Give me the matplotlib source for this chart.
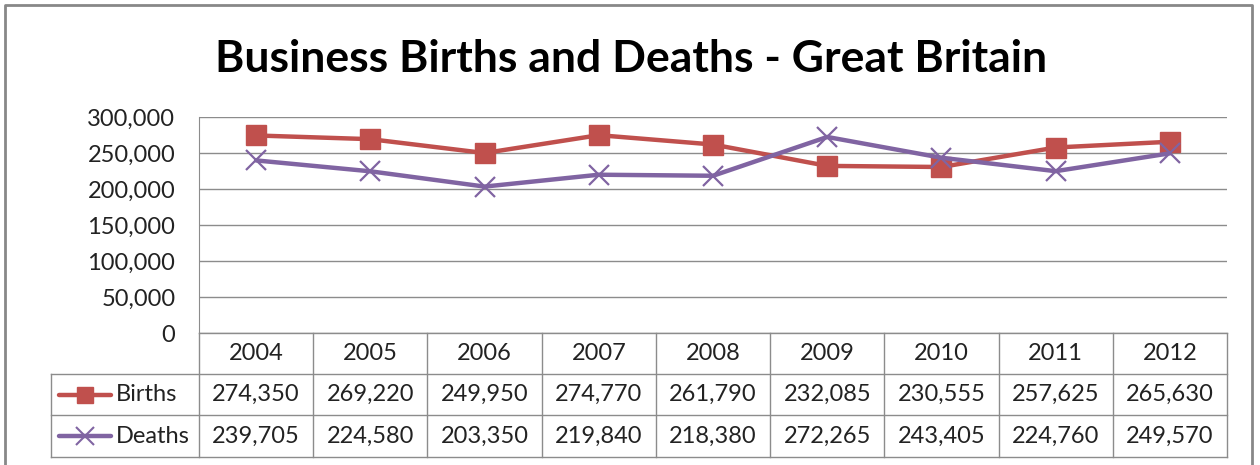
import matplotlib
matplotlib.use('Agg')
import matplotlib.pyplot as plt
from matplotlib.lines import Line2D

years = ['2004', '2005', '2006', '2007', '2008', '2009', '2010', '2011', '2012']
births = [274350, 269220, 249950, 274770, 261790, 232085, 230555, 257625, 265630]
deaths = [239705, 224580, 203350, 219840, 218380, 272265, 243405, 224760, 249570]
series_names = ['Births', 'Deaths']
yticks = [0, 50000, 100000, 150000, 200000, 250000, 300000]

RED = '#C0504D'
PURPLE = '#8064A2'
GRID = '#8C8C8C'
FONT = 'Lato'
TXT = '#222222'

W, H = 1260, 465
fig = plt.figure(figsize=(W / 100, H / 100), dpi=100)

# pixel geometry of the plot area and table
px_left, px_right = 199, 1227
px_top, px_zero = 117, 333
row_lines = [333, 374, 415, 457]
legend_left = 51

ax = fig.add_axes([px_left / W, 1 - px_zero / H,
                   (px_right - px_left) / W, (px_zero - px_top) / H])
n = len(years)
x = list(range(n))
ax.plot(x, births, color=RED, lw=3.2, marker='s', ms=14, mec=RED, mfc=RED,
        solid_capstyle='round', zorder=3)
ax.plot(x, deaths, color=PURPLE, lw=3.2, marker='x', ms=15, mew=1.6,
        solid_capstyle='round', zorder=4)
ax.set_xlim(-0.5, n - 0.5)
ax.set_ylim(0, 300000)
ax.set_yticks(yticks)
ax.set_yticklabels([f'{v:,}' for v in yticks], fontsize=17, fontname=FONT,
                   color=TXT)
ax.tick_params(axis='y', length=0, pad=17)
ax.set_xticks([])
ax.yaxis.grid(True, color=GRID, lw=1)
ax.set_axisbelow(True)
for side in ['top', 'right', 'bottom']:
    ax.spines[side].set_visible(False)
ax.spines['left'].set_color(GRID)

# overlay in pixel coordinates for the title, border and data table
ov = fig.add_axes([0, 0, 1, 1])
ov.set_xlim(0, W)
ov.set_ylim(H, 0)
ov.axis('off')

# outer chart border
ov.plot([5, 5, 1252, 1252], [470, 5, 5, 470], color='#888888', lw=2)

ov.text(631, 59, 'Business Births and Deaths - Great Britain', ha='center',
        va='center', fontsize=32, fontweight='bold', fontname=FONT)

col_w = (px_right - px_left) / n
# header row
ov.plot([px_left, px_right], [row_lines[0]] * 2, color=GRID, lw=1)
for i in range(n + 1):
    xc = px_left + i * col_w
    ov.plot([xc, xc], [row_lines[0], row_lines[-1]], color=GRID, lw=1)
for r in row_lines[1:]:
    ov.plot([legend_left, px_right], [r, r], color=GRID, lw=1)
ov.plot([legend_left, legend_left], [row_lines[1], row_lines[-1]], color=GRID, lw=1)

for i, yr in enumerate(years):
    ov.text(px_left + (i + 0.5) * col_w, (row_lines[0] + row_lines[1]) / 2, yr,
            ha='center', va='center', fontsize=17, fontname=FONT, color=TXT)

for k, (name, vals, col, mk) in enumerate([(series_names[0], births, RED, 's'),
                                           (series_names[1], deaths, PURPLE, 'x')]):
    yc = (row_lines[k + 1] + row_lines[k + 2]) / 2
    ov.add_line(Line2D([59, 111], [yc, yc], color=col, lw=3.2,
                       solid_capstyle='round'))
    if mk == 's':
        ov.plot([85], [yc], marker='s', ms=12, color=col)
    else:
        ov.plot([85], [yc], marker='x', ms=13, mew=1.5, color=col)
    ov.text(116, yc, name, ha='left', va='center', fontsize=17, fontname=FONT,
            color=TXT)
    for i, v in enumerate(vals):
        ov.text(px_left + (i + 0.5) * col_w, yc, f'{v:,}', ha='center',
                va='center', fontsize=17, fontname=FONT, color=TXT)

fig.savefig('out.png', dpi=100)
